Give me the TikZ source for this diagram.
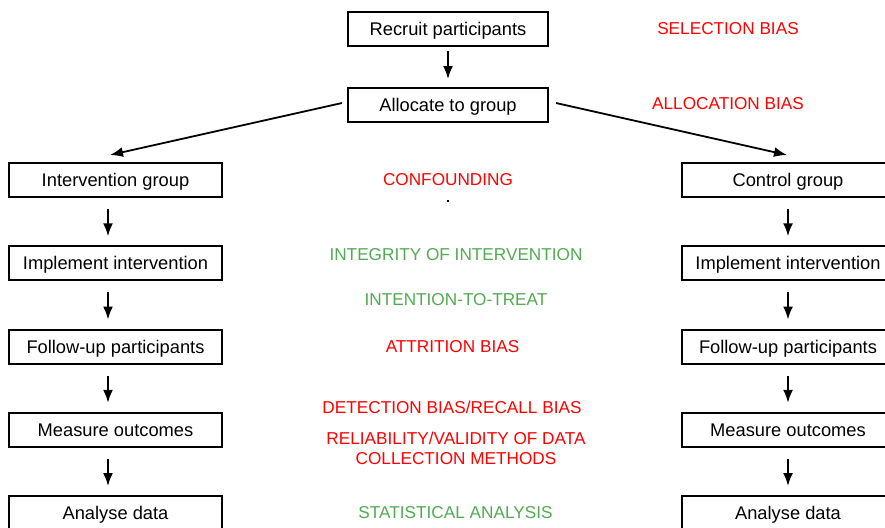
\documentclass[tikz,border=0pt]{standalone}
\usepackage{fontspec}
\setmainfont{Liberation Sans}
\usepackage{tikz}
\usetikzlibrary{arrows.meta}

\definecolor{biasred}{RGB}{255,0,0}
\definecolor{goodgreen}{RGB}{82,170,82}

\tikzset{
  stage/.style={draw, line width=1pt, minimum width=106.5pt, minimum height=17pt,
    inner sep=0pt, text height=6.6pt, text depth=0pt, font=\fontsize{9.15}{11}\selectfont},
  flow/.style={-{Latex[length=6.5pt,width=5pt]}, line width=0.9pt},
  bias/.style={text=biasred, inner sep=0pt, align=center, font=\fontsize{8.6}{10}\selectfont},
  check/.style={bias, text=goodgreen}
}

\begin{document}
\begin{tikzpicture}[x=0.5pt, y=-0.5pt]
  \useasboundingbox (0,0) rectangle (885,527);
  \clip (0,0) rectangle (885,527);
  \def\gap{83.25} % distance between two rows of boxes
  % top of the trial
  \node[stage, minimum width=100pt] (recruit) at (448,29) {Recruit participants};
  \node[stage, minimum width=100pt] (alloc) at (448,105) {Allocate to group};
  \draw[flow, shorten <=2pt, shorten >=4pt] (recruit) -- (alloc);
  % the two arms
  \foreach \n/\lt/\rt in {1/Intervention group/Control group,
      2/Implement intervention/Implement intervention,
      3/Follow-up participants/Follow-up participants,
      4/Measure outcomes/Measure outcomes,
      5/Analyse data/Analyse data} {
    \node[stage] (i\n) at (115.5, 180+\gap*\n-\gap) {\lt};
    \node[stage] (c\n) at (788, 180+\gap*\n-\gap) {\rt};
  }
  \coordinate (la) at (108,0);
  \foreach \i [evaluate=\i as \j using int(\i+1)] in {1,...,4} {
    \draw[flow, shorten <=5.5pt, shorten >=4.5pt] (i\i.south -| la) -- (i\j.north -| la);
    \draw[flow, shorten <=5.5pt, shorten >=4.5pt] (c\i) -- (c\j);
  }
  \coordinate (lt) at (110,155);
  \coordinate (rt) at (787,155);
  \draw[flow] ([xshift=-2.5pt,yshift=1pt]alloc.west) -- (lt);
  \draw[flow] ([xshift=3.5pt,yshift=1pt]alloc.east) -- (rt);
  % biases and checks
  \node[bias] (selbias) at (728,29) {SELECTION BIAS};
  \node[bias] (allocbias) at (728,104) {ALLOCATION BIAS};
  \node[bias] (confound) at (448,180) {CONFOUNDING};
  \fill (447,200) rectangle (449,202);
  \node[check] (integrity) at (456,255) {INTEGRITY OF INTERVENTION};
  \node[check] (itt) at (456,300) {INTENTION-TO-TREAT};
  \node[bias] (attrition) at (452.5,347) {ATTRITION BIAS};
  \node[bias] (detection) at (452,407) {DETECTION BIAS/RECALL BIAS};
  \node[bias] (reliability) at (456,448) {RELIABILITY/VALIDITY OF DATA\\COLLECTION METHODS};
  \node[check] (stats) at (455.5,513) {STATISTICAL ANALYSIS};
\end{tikzpicture}
\end{document}
